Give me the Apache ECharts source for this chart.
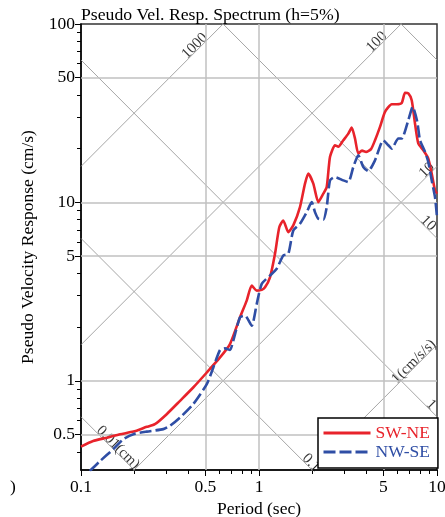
<!DOCTYPE html>
<html><head><meta charset="utf-8">
<script src="https://cdn.jsdelivr.net/npm/echarts@6/dist/echarts.min.js"></script>
<style>html,body{margin:0;padding:0;background:#fff;overflow:hidden}#c{width:445px;height:517px}</style>
</head><body><div id="c"></div>
<script>
// ---- data (period in sec, pseudo velocity in cm/s) ----
const periodSWNE = [0.100,0.117,0.140,0.166,0.197,0.234,0.260,0.303,0.360,0.427,0.509,0.604,0.687,0.782,0.853,0.910,0.971,1.036,1.081,1.153,1.230,1.300,1.369,1.461,1.558,1.699,1.813,1.892,2.019,2.154,2.297,2.401,2.506,2.673,2.790,2.976,3.176,3.318,3.462,3.613,3.792,3.992,4.259,4.485,4.784,5.104,5.567,5.938,6.336,6.613,6.901,7.210,7.522,7.850,8.375,8.935,9.337,9.745,10.0];
const velSWNE = [0.428,0.460,0.480,0.502,0.519,0.552,0.571,0.650,0.772,0.917,1.113,1.352,1.607,2.268,2.815,3.418,3.203,3.233,3.344,3.804,5.150,7.26,7.92,6.81,7.43,9.41,12.74,14.50,12.74,10.04,11.19,12.19,18.0,20.9,20.5,22.3,24.3,26.3,22.8,18.8,19.5,19.2,19.9,22.3,26.5,32.2,35.5,35.5,36.1,41.1,40.8,37.4,27.7,21.4,19.6,17.6,14.5,11.7,11.2];
const periodNWSE = [0.112,0.128,0.152,0.173,0.197,0.234,0.290,0.316,0.360,0.427,0.509,0.554,0.604,0.644,0.687,0.717,0.782,0.835,0.910,0.971,1.036,1.153,1.257,1.369,1.461,1.558,1.699,1.854,1.978,2.063,2.154,2.297,2.401,2.506,2.673,2.976,3.176,3.387,3.613,3.855,4.111,4.485,4.992,5.326,5.567,6.062,6.336,6.901,7.304,7.747,8.026,8.563,8.935,9.337,9.745,10.0];
const velNWSE = [0.312,0.355,0.414,0.471,0.502,0.519,0.536,0.559,0.622,0.740,0.958,1.188,1.488,1.519,1.488,1.678,2.268,2.319,2.037,2.697,3.494,3.889,4.242,5.036,5.150,6.96,7.59,8.82,10.04,8.82,8.10,8.00,9.41,13.29,13.87,13.29,13.0,15.79,18.37,15.79,14.99,17.22,22.3,20.9,20.0,22.8,22.8,28.9,34.3,28.3,22.3,19.2,16.84,13.29,10.71,8.27];

const xMajorTicks = [0.1,0.5,1,5,10];
const xMinorTicks = [0.2,0.3,0.4,0.6,0.7,0.8,0.9,2,3,4,6,7,8,9];
const yMajorTicks = [0.5,1,5,10,50,100];
const yMinorTicks = [0.4,0.6,0.7,0.8,0.9,2,3,4,6,7,8,9,20,30,40,60,70,80,90];

const dispLines = [0.01,0.1,1,10,100];      // displacement, cm
const dispLabels = ['0.01(cm)','0.1','1','10',''];
const accLines = [1,10,100,1000];           // acceleration, cm/s/s
const accLabels = ['1(cm/s/s)','10','100','1000'];

const seriesNames = ['SW-NE','NW-SE'];
const title = 'Pseudo Vel. Resp. Spectrum (h=5%)';

// ---- build ----
const serif = '"Liberation Serif","Times New Roman",serif';
const RED = '#e8232b', BLUE = '#2f4ea5';
const TWO_PI = 2 * Math.PI;
const xMin = 0.1, xMax = 10, yMin = Math.pow(10, -0.5), yMax = 100;
const pvFromDisp = (D, T) => TWO_PI * D / T;
const pvFromAcc = (A, T) => A * T / TWO_PI;
const tEnds = [xMin, xMax];
const fmt = v => String(+(+v).toPrecision(4));

const dispLabelT = [0.155, 1.885, 8.9, 8.56, null];
const accLabelT = [7.72, 9.14, 4.78, 0.454];
const shift = Math.pow(10, 3.2 / 178);

const series = [];
series.push({
  type: 'line', name: 'gridlines', data: tEnds.map(t => [t, 1]), symbol: 'none', silent: true,
  lineStyle: { opacity: 0 }, z: 1,
  markLine: {
    silent: true, symbol: 'none', label: { show: false }, animation: false,
    lineStyle: { color: '#c0c0c0', width: 1.5, type: 'solid' },
    emphasis: { disabled: true },
    data: xMajorTicks.filter(v => v > xMin && v < xMax).map(v => ({ xAxis: v }))
      .concat(yMajorTicks.filter(v => v > yMin && v < yMax).map(v => ({ yAxis: v })))
  }
});
dispLines.forEach(D => series.push({
  type: 'line', name: 'd' + D, data: tEnds.map(t => [t, pvFromDisp(D, t)]), symbol: 'none', silent: true,
  lineStyle: { color: '#9c9c9c', width: 0.9 }, z: 2
}));
accLines.forEach(A => series.push({
  type: 'line', name: 'a' + A, data: tEnds.map(t => [t, pvFromAcc(A, t)]), symbol: 'none', silent: true,
  lineStyle: { color: '#9c9c9c', width: 0.9 }, z: 2
}));
const labelData = [];
dispLines.forEach((D, i) => {
  const t = dispLabelT[i]; if (!t) return;
  labelData.push({ value: [t * shift, pvFromDisp(D, t) * shift], label: { formatter: dispLabels[i], rotate: -45 } });
});
accLines.forEach((A, i) => {
  const t = accLabelT[i]; if (!t) return;
  labelData.push({ value: [t / shift, pvFromAcc(A, t) * shift], label: { formatter: accLabels[i], rotate: 45 } });
});
series.push({
  type: 'scatter', name: 'lineLabels', data: labelData, symbolSize: 1, silent: true,
  itemStyle: { color: 'transparent' }, z: 3,
  label: { show: true, position: 'inside', fontFamily: serif, fontSize: 15, color: '#000' }
});
series.push({
  type: 'line', name: seriesNames[0], data: periodSWNE.map((t, i) => [t, velSWNE[i]]),
  symbol: 'none', smooth: 0.2, lineStyle: { color: RED, width: 2.6 }, itemStyle: { color: RED }, z: 5
});
series.push({
  type: 'line', name: seriesNames[1], data: periodNWSE.map((t, i) => [t, velNWSE[i]]),
  symbol: 'none', smooth: 0.2, lineStyle: { color: BLUE, width: 2.6, type: [12, 4] }, itemStyle: { color: BLUE }, z: 6
});

const axisCommon = { type: 'log', logBase: 10, splitLine: { show: false }, minorTick: { show: false } };
const option = {
  animation: false,
  backgroundColor: '#fff',
  title: { text: title, left: 81, top: 6, padding: 0,
    textStyle: { fontFamily: serif, fontSize: 17.7, fontWeight: 'normal', color: '#000' } },
  grid: { left: 81, right: 8, top: 24, bottom: 47, show: true, borderColor: '#333', borderWidth: 1.5,
    outerBoundsMode: 'none', containLabel: false },
  xAxis: [
    Object.assign({}, axisCommon, {
      min: xMin, max: xMax, position: 'bottom',
      name: 'Period (sec)', nameLocation: 'middle', nameGap: 29,
      nameTextStyle: { fontFamily: serif, fontSize: 17.5, color: '#000' },
      axisLine: { show: true, lineStyle: { color: '#000', width: 1.5 } },
      axisTick: { show: true, length: 6, customValues: xMajorTicks, lineStyle: { color: '#000', width: 1 } },
      axisLabel: { customValues: xMajorTicks, formatter: fmt, fontFamily: serif, fontSize: 17.5, color: '#000', margin: 8 }
    }),
    Object.assign({}, axisCommon, {
      min: xMin, max: xMax, position: 'bottom',
      axisLine: { show: false },
      axisTick: { show: true, length: 4, customValues: xMinorTicks, lineStyle: { color: '#000', width: 1 } },
      axisLabel: { show: false }
    })
  ],
  yAxis: [
    Object.assign({}, axisCommon, {
      min: yMin, max: yMax, position: 'left',
      name: 'Pseudo Velocity Response (cm/s)', nameLocation: 'middle', nameGap: 34,
      nameTextStyle: { fontFamily: serif, fontSize: 17.5, color: '#000' },
      axisLine: { show: true, lineStyle: { color: '#000', width: 1.5 } },
      axisTick: { show: true, length: 6, customValues: yMajorTicks, lineStyle: { color: '#000', width: 1 } },
      axisLabel: { customValues: yMajorTicks, formatter: fmt, fontFamily: serif, fontSize: 17.5, color: '#000', margin: 6 }
    }),
    Object.assign({}, axisCommon, {
      min: yMin, max: yMax, position: 'left',
      axisLine: { show: false },
      axisTick: { show: true, length: 4, customValues: yMinorTicks, lineStyle: { color: '#000', width: 1 } },
      axisLabel: { show: false }
    })
  ],
  legend: {
    data: [
      { name: seriesNames[0], textStyle: { color: RED }, itemStyle: { opacity: 0 } },
      { name: seriesNames[1], textStyle: { color: BLUE }, itemStyle: { opacity: 0 } }
    ],
    orient: 'vertical', left: 318, top: 418, itemWidth: 47, itemHeight: 14, itemGap: 1,
    padding: [6, 8, 7, 4], borderColor: '#000', borderWidth: 1.5, borderRadius: 0, backgroundColor: '#fff',
    lineStyle: { width: 3 },
    textStyle: { fontFamily: serif, fontSize: 17.5 }, z: 10, selectedMode: false
  },
  graphic: [
    { type: 'text', left: 10, top: 478, silent: true,
      style: { text: ')', font: '17.5px "Liberation Serif"', fill: '#000' } }
  ],
  series: series
};
const chart = echarts.init(document.getElementById('c'));
chart.setOption(option);
</script></body></html>
